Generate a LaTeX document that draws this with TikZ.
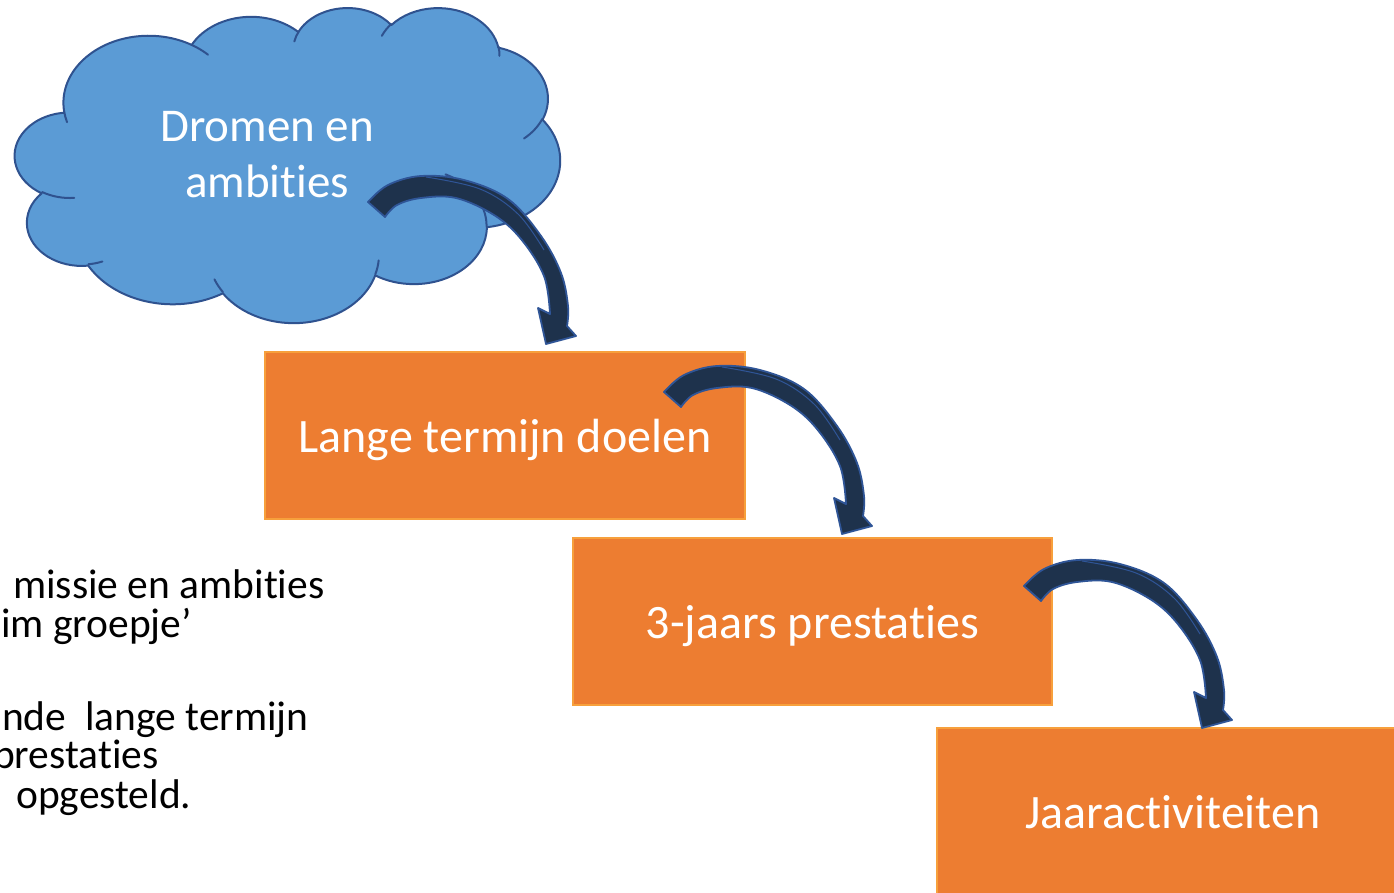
\documentclass[tikz,border=0pt]{standalone}
\usepackage{fontspec}
\setmainfont{Carlito}[Ligatures=NoCommon]
\definecolor{cloudfill}{RGB}{91,155,213}
\definecolor{cloudedge}{RGB}{47,82,143}
\definecolor{boxfill}{RGB}{237,125,49}
\definecolor{boxedge}{RGB}{247,160,60}
\definecolor{arrowfill}{RGB}{30,50,76}
\definecolor{arrowedge}{RGB}{47,85,151}
% visual angle -> parametric angle of an ellipse (wR, hR)
\newcommand\visang[4]{\pgfmathsetmacro#1{(#4)+asin(sin(atan2((#2)*sin(#4),(#3)*cos(#4))-(#4)))}}
\tikzset{
  cloudpath/.style={fill=cloudfill,draw=cloudedge,line width=2pt,line join=round},
  cloudinner/.style={draw=cloudedge,line width=2pt,line cap=round},
  stepbox/.style={rectangle,fill=boxfill,draw=boxedge,line width=1.2pt,text=white,
    font=\fontsize{48}{58}\selectfont,inner sep=0pt,text height=33pt,text depth=0pt},
  sidetext/.style={anchor=base west,inner sep=0pt,font=\fontsize{41.5}{50}\selectfont,text=black},
  arrowbody/.style={fill=arrowfill,draw=arrowedge,line width=1.8pt,line join=round},
  arrowface/.style={draw=arrowedge,line width=1pt},
  curvarrow/.pic={
    \filldraw[arrowbody] plot[smooth,tension=0.6] coordinates
      {(0,0) (20,-17) (53,-26) (96,-22) (140,-3) (173,34) (193,71) (200,104) (199,124)}
      -- (208,134) -- (178,142) -- (170,106)
      -- plot[smooth,tension=0.6] coordinates
      {(182,112) (176,74) (153,37) (126,13) (88,-4) (53,-4) (29,3) (17,15)} -- cycle;
    \draw[arrowface] plot[smooth,tension=0.6] coordinates {(58,-25) (112,-13) (150,12) (176,48)};
  }
}
\begin{document}
% precomputed parametric angles for the cloud outline and inner arcs
\visang\sA{67.53}{91.90}{-190.4875}\visang\eA{67.53}{91.90}{-190.4875+123.7805}
\visang\sB{53.33}{72.67}{-144.1024}\visang\eB{53.33}{72.67}{-144.1024+89.9452}
\visang\sC{43.65}{59.45}{-145.8079}\visang\eC{43.65}{59.45}{-145.8079+99.7230}
\visang\sD{48.57}{65.95}{-130.9861}\visang\eD{48.57}{65.95}{-130.9861+117.2417}
\visang\sE{53.33}{72.73}{-78.7089}\visang\eE{53.33}{72.73}{-78.7089+109.0269}
\visang\sF{67.75}{92.20}{-46.2673}\visang\eF{67.75}{92.20}{-46.2673+130.2690}
\visang\sG{57.85}{78.67}{0.6250}\visang\eG{57.85}{78.67}{0.6250+114.0333}
\visang\sH{67.52}{92.15}{22.4516}\visang\eH{67.52}{92.15}{22.4516+115.1726}
\visang\sI{77.20}{105.43}{66.2426}\visang\eI{77.20}{105.43}{66.2426+75.7110}
\visang\sJ{43.60}{59.18}{-274.9421}\visang\eJ{43.60}{59.18}{-274.9421+146.7356}
\visang\sK{43.45}{59.45}{-246.8285}\visang\eK{43.45}{59.45}{-246.8285+152.5189}
\visang\sa{43.45}{59.45}{86.742}\visang\ea{43.45}{59.45}{86.742+26.4295}
\visang\sb{43.60}{59.18}{73.6105}\visang\eb{43.60}{59.18}{73.6105+11.4475}
\visang\sc{67.52}{92.15}{137.6242}\visang\ec{67.52}{92.15}{137.6242+14.0811}
\visang\sd{67.52}{92.15}{6.4533}\visang\ed{67.52}{92.15}{6.4533+15.9984}
\visang\se{57.85}{78.67}{-70.2924}\visang\ee{57.85}{78.67}{-70.2924+70.9174}
\visang\sf{53.33}{72.73}{30.3180}\visang\ef{53.33}{72.73}{30.3180+27.7515}
\visang\sg{48.57}{65.95}{-13.7443}\visang\eg{48.57}{65.95}{-13.7443+14.8589}
\visang\sh{48.57}{65.95}{-149.1815}\visang\eh{48.57}{65.95}{-149.1815+18.1954}
\visang\si{43.65}{59.45}{-163.4943}\visang\ei{43.65}{59.45}{-163.4943+17.6864}
\visang\sj{67.53}{91.90}{-66.7070}\visang\ej{67.53}{91.90}{-66.7070+12.3194}
\visang\sk{67.53}{91.90}{157.6544}\visang\ek{67.53}{91.90}{157.6544+11.8582}
\begin{tikzpicture}[x=1pt,y=-1pt]
\useasboundingbox (0,0) rectangle (1394,892);
\clip (0,0) rectangle (1394,892);
\fill[white] (0,0) rectangle (1394,892);
% cloud
\begin{scope}[shift={(15,7)},xscale=1.26157,yscale=0.729167]
  \path[cloudpath] (39,143.7)
    arc[start angle=\sA, end angle=\eA, x radius=67.53, y radius=91.90]
    arc[start angle=\sB, end angle=\eB, x radius=53.33, y radius=72.67]
    arc[start angle=\sC, end angle=\eC, x radius=43.65, y radius=59.45]
    arc[start angle=\sD, end angle=\eD, x radius=48.57, y radius=65.95]
    arc[start angle=\sE, end angle=\eE, x radius=53.33, y radius=72.73]
    arc[start angle=\sF, end angle=\eF, x radius=67.75, y radius=92.20]
    arc[start angle=\sG, end angle=\eG, x radius=57.85, y radius=78.67]
    arc[start angle=\sH, end angle=\eH, x radius=67.52, y radius=92.15]
    arc[start angle=\sI, end angle=\eI, x radius=77.20, y radius=105.43]
    arc[start angle=\sJ, end angle=\eJ, x radius=43.60, y radius=59.18]
    arc[start angle=\sK, end angle=\eK, x radius=43.45, y radius=59.45]
    -- cycle;
  \draw[cloudinner] (46.93,261.77) arc[start angle=\sa, end angle=\ea, x radius=43.45, y radius=59.45];
  \draw[cloudinner] (69.28,348.99) arc[start angle=\sb, end angle=\eb, x radius=43.60, y radius=59.18];
  \draw[cloudinner] (164.78,390.90) arc[start angle=\sc, end angle=\ec, x radius=67.52, y radius=92.15];
  \draw[cloudinner] (288.27,347.51) arc[start angle=\sd, end angle=\ed, x radius=67.52, y radius=92.15];
  \draw[cloudinner] (341.29,229.54) arc[start angle=\se, end angle=\ee, x radius=57.85, y radius=78.67];
  \draw[cloudinner] (417.98,153.54) arc[start angle=\sf, end angle=\ef, x radius=53.33, y radius=72.73];
  \draw[cloudinner] (383.24,54.26) arc[start angle=\sg, end angle=\eg, x radius=48.57, y radius=65.95];
  \draw[cloudinner] (290.78,39.52) arc[start angle=\sh, end angle=\eh, x radius=48.57, y radius=65.95];
  \draw[cloudinner] (221.41,47.20) arc[start angle=\si, end angle=\ei, x radius=43.65, y radius=59.45];
  \draw[cloudinner] (140.00,51.92) arc[start angle=\sj, end angle=\ej, x radius=67.53, y radius=91.90];
  \draw[cloudinner] (41.27,157.89) arc[start angle=\sk, end angle=\ek, x radius=67.53, y radius=91.90];
\end{scope}
\node[align=center,text=white,inner sep=0pt,font=\fontsize{47}{56}\selectfont] (cloud) at (267,155) {Dromen en\\ambities};
% boxes
\node[stepbox,minimum width=480pt,minimum height=167pt] (b1) at (505,435.5) {Lange termijn doelen};
\node[stepbox,minimum width=479pt,minimum height=167pt] (b2) at (812.5,621.5) {3-jaars prestaties};
\node[stepbox,minimum width=472pt,minimum height=167pt] (b3) at (1173,811.5) {Jaaractiviteiten};
% curved arrows
\coordinate (a1) at (368,202);
\coordinate (a2) at (664,392);
\coordinate (a3) at (1024,586);
\pic at (a1) {curvarrow};
\pic at (a2) {curvarrow};
\pic at (a3) {curvarrow};
% side text
\node[sidetext] (t1) at (13,598) {missie en ambities};
\node[sidetext] (t2) at (1,637) {im groepje’};
\node[sidetext] (t3) at (2,730) {nde\ \ lange termijn};
\node[sidetext] (t4) at (-7,768) {prestaties};
\node[sidetext] (t5) at (16,808) {opgesteld.};
\end{tikzpicture}
\end{document}
